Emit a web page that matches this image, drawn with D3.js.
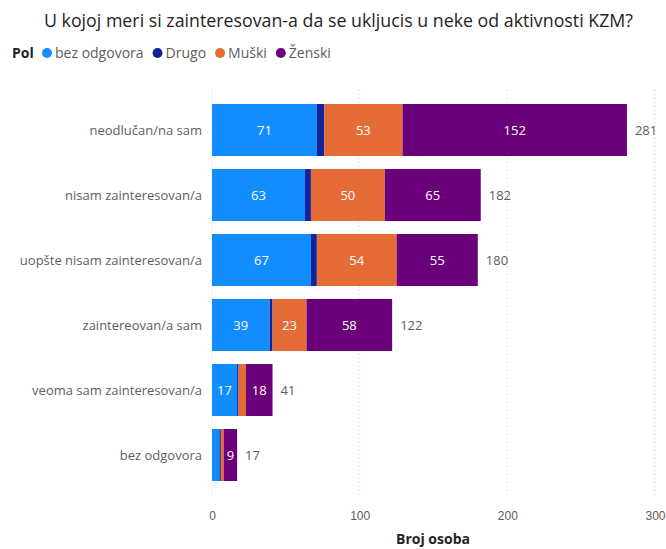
<!DOCTYPE html>
<head>
  <meta charset="utf-8">
  <script src="https://d3js.org/d3.v7.min.js"></script>
  <style>
    body { margin: 0; background: #fff; font-family: "Open Sans", Roboto, sans-serif; }
    .grid line { stroke: #c8c8c8; stroke-dasharray: 1,3; }
    .cat text { fill: #605e5c; font-size: 13px; }
    .tick text { fill: #605e5c; font-size: 12px; }
  </style>
</head>
<body>
  <svg id="chart" width="666" height="549"></svg>
  <script>
    // values
    const categories = ["neodlučan/na sam", "nisam zainteresovan/a", "uopšte nisam zainteresovan/a",
                        "zaintereovan/a sam", "veoma sam zainteresovan/a", "bez odgovora"];
    const series = ["bez odgovora", "Drugo", "Muški", "Ženski"];
    const colors = ["#118DFF", "#12239E", "#E66C37", "#6B007B"];
    const bezOdgovora = [71, 63, 67, 39, 17, 5];
    const drugo = [5, 4, 4, 2, 1, 1];
    const muski = [53, 50, 54, 23, 5, 2];
    const zenski = [152, 65, 55, 58, 18, 9];
    const xTicks = [0, 100, 200, 300];

    const svg = d3.select("#chart");

    const rows = categories.map((c, i) => ({
      cat: c, "bez odgovora": bezOdgovora[i], Drugo: drugo[i], "Muški": muski[i], "Ženski": zenski[i]
    }));
    const stacked = d3.stack().keys(series)(rows);

    const x = d3.scaleLinear().domain([0, 300]).range([212, 655]);
    const y = d3.scaleBand().domain(categories).range([97.5, 487.5]).paddingInner(0.2).paddingOuter(0.1);
    const color = d3.scaleOrdinal().domain(series).range(colors);

    // title
    svg.append("text").attr("x", 338.5).attr("y", 27).attr("text-anchor", "middle")
      .style("font-size", "17.8px").style("fill", "#252423")
      .text("U kojoj meri si zainteresovan-a da se ukljucis u neke od aktivnosti KZM?");

    // legend
    const leg = svg.append("g").attr("transform", "translate(12,53)");
    leg.append("text").attr("y", 5).style("font-size", "14px").style("font-weight", "bold")
      .style("fill", "#252423").text("Pol");
    let lx = 30;
    series.forEach((s, i) => {
      leg.append("circle").attr("cx", lx + 5).attr("cy", 0).attr("r", 5).attr("fill", colors[i]);
      const t = leg.append("text").attr("x", lx + 13).attr("y", 5)
        .style("font-size", "14px").style("fill", "#605e5c").text(s);
      lx += 13 + t.node().getComputedTextLength() + 9;
    });

    // grid
    svg.append("g").attr("class", "grid").selectAll("line").data(xTicks).join("line")
      .attr("x1", d => x(d)).attr("x2", d => x(d)).attr("y1", 90).attr("y2", 497);

    // bars
    const layer = svg.append("g").selectAll("g").data(stacked).join("g")
      .attr("fill", d => color(d.key));
    layer.selectAll("rect").data(d => d).join("rect")
      .attr("x", d => x(d[0])).attr("y", d => y(d.data.cat))
      .attr("width", d => x(d[1]) - x(d[0])).attr("height", y.bandwidth());

    // labels inside segments
    stacked.forEach(s => {
      s.forEach(d => {
        const w = x(d[1]) - x(d[0]);
        const v = d[1] - d[0];
        if (w < String(v).length * 7 + 6) return;
        svg.append("text").attr("x", (x(d[0]) + x(d[1])) / 2)
          .attr("y", y(d.data.cat) + y.bandwidth() / 2 + 4.5)
          .attr("text-anchor", "middle").style("font-size", "13px").style("fill", "#fff")
          .text(v);
      });
    });

    // totals
    rows.forEach(r => {
      const total = series.reduce((a, k) => a + r[k], 0);
      svg.append("text").attr("x", x(total) + 8).attr("y", y(r.cat) + y.bandwidth() / 2 + 4.5)
        .style("font-size", "13px").style("fill", "#605e5c").text(total);
    });

    // category axis
    svg.append("g").attr("class", "cat").selectAll("text").data(categories).join("text")
      .attr("x", 202).attr("y", d => y(d) + y.bandwidth() / 2 + 4.5)
      .attr("text-anchor", "end").text(d => d);

    // x axis
    const xa = svg.append("g").attr("transform", "translate(0,505)")
      .call(d3.axisBottom(x).tickValues(xTicks).tickSize(0).tickPadding(6));
    xa.select(".domain").remove();

    svg.append("text").attr("x", 433).attr("y", 544).attr("text-anchor", "middle")
      .style("font-size", "14px").style("font-weight", "bold").style("fill", "#252423")
      .text("Broj osoba");
  </script>
</body>
